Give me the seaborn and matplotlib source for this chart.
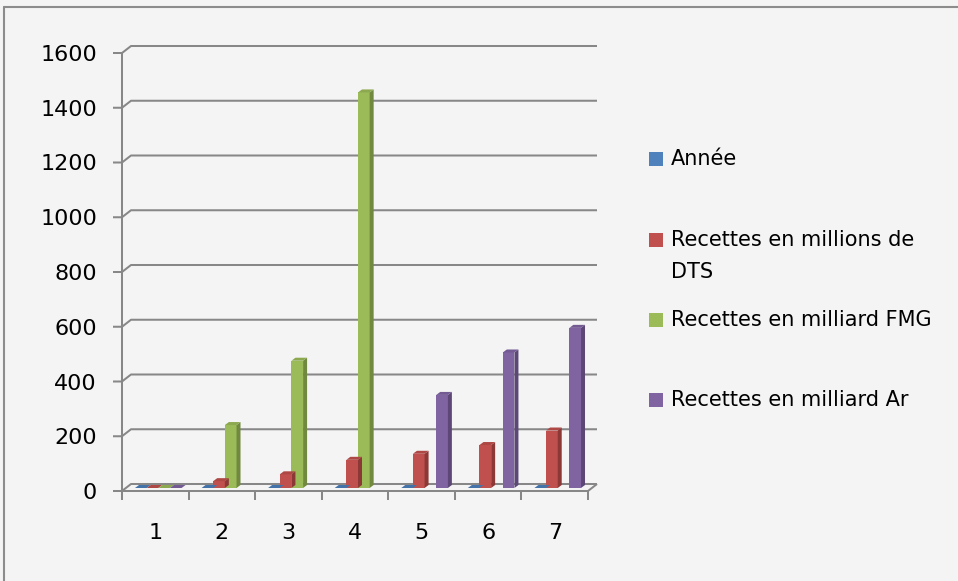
import numpy as np
import pandas as pd
import matplotlib
matplotlib.use("Agg")
import matplotlib.pyplot as plt
import seaborn as sns
from matplotlib.patches import Polygon, Rectangle
from matplotlib.lines import Line2D
from matplotlib.transforms import IdentityTransform, ScaledTranslation

# données
categories = ["1", "2", "3", "4", "5", "6", "7"]
annee = [0, 0, 0, 0, 0, 0, 0]
recettes_dts = [0, 25, 50, 103, 125, 157, 210]
recettes_fmg = [0, 230, 465, 1445, None, None, None]
recettes_ar = [0, None, None, None, 340, 495, 585]
series_labels = ["Année", "Recettes en millions de\nDTS",
                 "Recettes en milliard FMG", "Recettes en milliard Ar"]
y_ticks = [0, 200, 400, 600, 800, 1000, 1200, 1400, 1600]

colors = ["#4F81BD", "#C0504D", "#9BBB59", "#8064A2"]
side_colors = ["#385D8A", "#8C3836", "#71893F", "#5C4776"]
top_colors = ["#4473AA", "#AE4845", "#8CA950", "#735A93"]
grid_color = "#878787"
bg = "#F4F4F4"

rows = []
for name, vals in zip(series_labels, [annee, recettes_dts, recettes_fmg, recettes_ar]):
    for c, v in zip(categories, vals):
        if v is not None:
            rows.append({"Groupe": c, "Série": name, "Valeur": v})
df = pd.DataFrame(rows)

sns.set_style("white")
plt.rcParams["font.family"] = ["DejaVu Sans"]

fig = plt.figure(figsize=(9.58, 5.81), dpi=100, facecolor=bg)
ax = fig.add_axes([122 / 958, 1 - 491 / 581, 466 / 958, 438 / 581])
ax.set_facecolor("none")

sns.barplot(data=df, x="Groupe", y="Valeur", hue="Série", order=categories,
            hue_order=series_labels, palette=dict(zip(series_labels, colors)),
            width=0.7, saturation=1, legend=False, edgecolor="none",
            linewidth=0, ax=ax)

ax.set_xlim(-0.5, 6.5)
ax.set_ylim(0, 1600)
ax.set_yticks(y_ticks)
ax.set_xlabel("")
ax.set_ylabel("")
ax.tick_params(axis="y", length=0, pad=18, labelsize=16, labelcolor="black")
ax.tick_params(axis="x", length=0, pad=23, labelsize=16, labelcolor="black")
for s in ax.spines.values():
    s.set_visible(False)

lw = 1.45
BX, BY = 9, 7


def px(x, y):
    return ax.transData.transform((x, y))


def pline(pts, color=grid_color, z=1):
    xs, ys = zip(*pts)
    ax.add_line(Line2D(xs, ys, color=color, lw=lw, transform=IdentityTransform(),
                       clip_on=False, zorder=z, solid_capstyle="butt"))


# mur du fond et grille
fx, f0 = px(-0.5, 0)
rx, _ = px(6.5, 0)
for y in y_ticks[1:]:
    _, fy = px(-0.5, y)
    pline([(fx - 9, fy), (fx, fy), (fx + BX, fy + BY), (rx + BX, fy + BY)])

# sol
pline([(fx - 9, f0), (rx, f0), (rx + BX, f0 + BY)])
pline([(fx, f0), (fx + BX, f0 + BY), (rx + BX, f0 + BY)])
_, ftop = px(-0.5, 1600)
pline([(fx, f0), (fx, ftop)])
for i in range(len(categories) + 1):
    tx, _ = px(-0.5 + i, 0)
    pline([(tx, f0), (tx, f0 - 9)])

# barres en relief
shift = ScaledTranslation(0.03, 0.03, fig.dpi_scale_trans)
color_map = {matplotlib.colors.to_hex(c): i for i, c in enumerate(colors)}
for p in list(ax.patches):
    if not isinstance(p, Rectangle):
        continue
    idx = color_map.get(matplotlib.colors.to_hex(p.get_facecolor()), 0)
    p.set_transform(ax.transData + shift)
    p.set_zorder(3)
    p.set_clip_on(False)
    bb = p.get_window_extent()
    x0, y0, x1, y1 = bb.x0, bb.y0, bb.x1, bb.y1
    d, e = 4, 3
    side = Polygon([(x1, y0), (x1 + d, y0 + e), (x1 + d, y1 + e), (x1, y1)],
                   closed=True, facecolor=side_colors[idx], edgecolor="none",
                   transform=IdentityTransform(), clip_on=False, zorder=3)
    top = Polygon([(x0, y1), (x1, y1), (x1 + d, y1 + e), (x0 + d, y1 + e)],
                  closed=True, facecolor=top_colors[idx], edgecolor="none",
                  transform=IdentityTransform(), clip_on=False, zorder=3)
    ax.add_patch(side)
    ax.add_patch(top)

# légende
legend_y = [159, 240, 320, 400]
for lab, col, yc in zip(series_labels, colors, legend_y):
    fig.patches.append(Rectangle((649 / 958, 1 - (yc + 7) / 581), 14 / 958, 14 / 581,
                                 facecolor=col, edgecolor="none",
                                 transform=fig.transFigure, figure=fig))
    for k, line in enumerate(lab.split("\n")):
        fig.text(671 / 958, 1 - (yc + 32 * k) / 581, line, va="center",
                 ha="left", fontsize=15, color="black")

# cadre
fig.add_artist(Line2D([4 / 958, 4 / 958], [0, 1 - 7 / 581], color="#8C8C8C",
                      lw=1.5, transform=fig.transFigure))
fig.add_artist(Line2D([4 / 958, 1], [1 - 7 / 581, 1 - 7 / 581], color="#8C8C8C",
                      lw=1.5, transform=fig.transFigure))

fig.savefig("out.png", dpi=100, facecolor=bg)
